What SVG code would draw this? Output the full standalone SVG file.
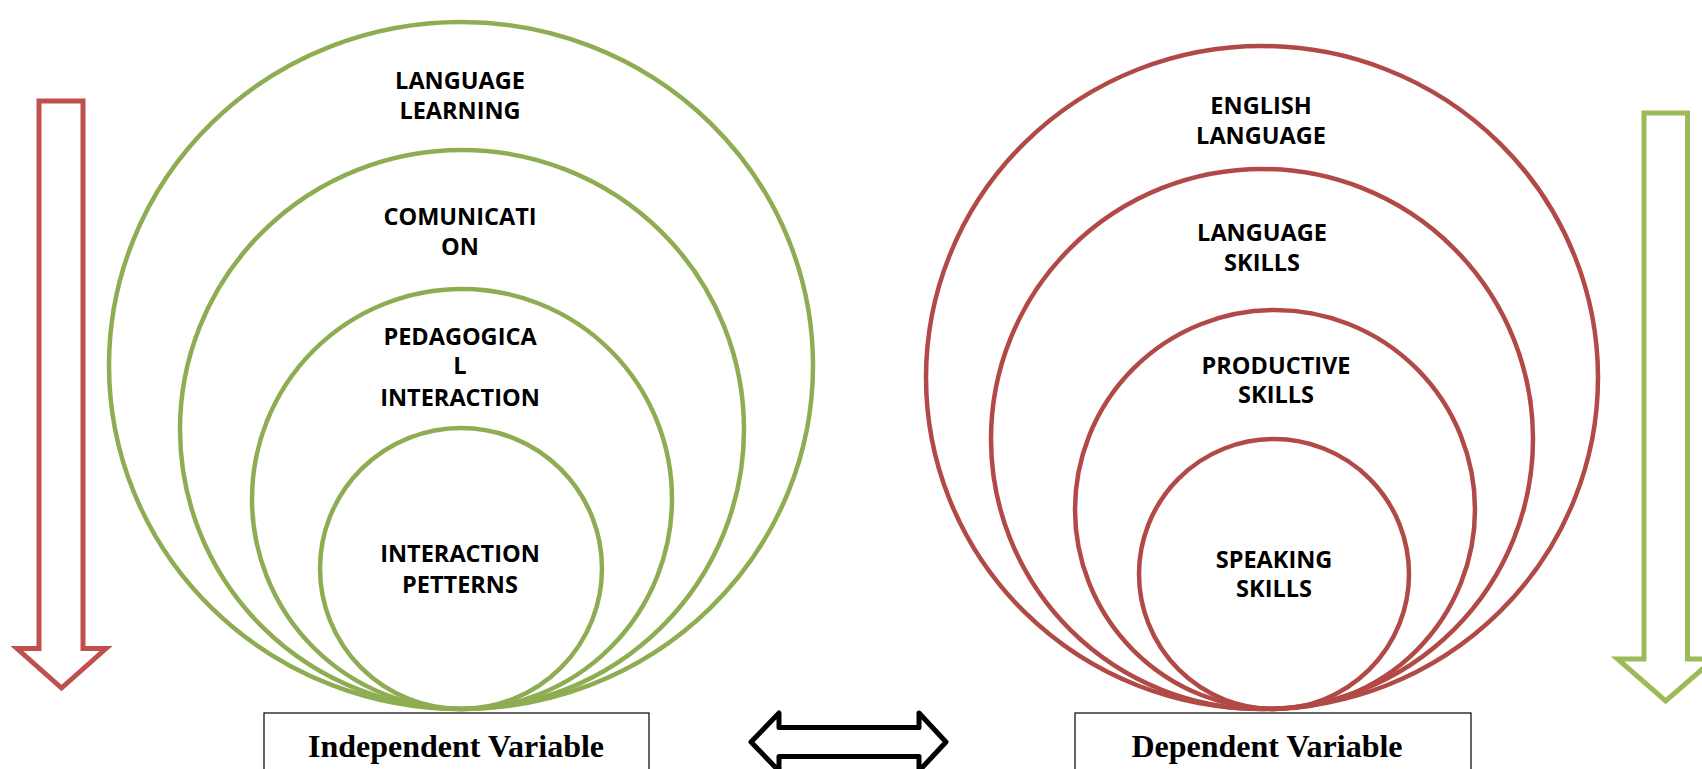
<svg xmlns="http://www.w3.org/2000/svg" width="1702" height="769" viewBox="0 0 1702 769">
  <style>
    .ring-g { fill: none; stroke: #8EAD52; stroke-width: 4.5; }
    .ring-r { fill: none; stroke: #B14A46; stroke-width: 4.5; }
    .lbl { font-family: "Open Sans", "Liberation Sans", sans-serif; font-weight: 700; font-size: 23.5px; fill: #000; text-anchor: middle; }
    .var { font-family: "Liberation Serif", "Times New Roman", serif; font-weight: 700; font-size: 32px; fill: #000; text-anchor: middle; }
    .box { fill: #fff; stroke: #000; stroke-width: 1.2; }
    .arrow-r { fill: #fff; stroke: #C0504D; stroke-width: 5; stroke-linejoin: miter; }
    .arrow-g { fill: #fff; stroke: #9BBB59; stroke-width: 5; stroke-linejoin: miter; }
    .arrow-k { fill: #fff; stroke: #000; stroke-width: 5; stroke-linejoin: round; }
  </style>
  <rect width="1702" height="769" fill="#fff"/>

  <!-- independent variable: nested green rings -->
  <g id="language-learning">
    <ellipse class="ring-g" cx="461" cy="365.5" rx="352" ry="343.5"/>
    <text class="lbl" x="460" y="89">LANGUAGE</text>
    <text class="lbl" x="460" y="119">LEARNING</text>
  </g>
  <g id="comunication">
    <ellipse class="ring-g" cx="462" cy="429.5" rx="282" ry="279.5"/>
    <text class="lbl" x="460" y="225">COMUNICATI</text>
    <text class="lbl" x="460" y="255">ON</text>
  </g>
  <g id="pedagogical-interaction">
    <ellipse class="ring-g" cx="462" cy="499" rx="210" ry="210"/>
    <text class="lbl" x="460" y="345">PEDAGOGICA</text>
    <text class="lbl" x="460" y="374">L</text>
    <text class="lbl" x="460" y="406">INTERACTION</text>
  </g>
  <g id="interaction-patterns">
    <ellipse class="ring-g" cx="461" cy="568.5" rx="141" ry="140.5"/>
    <text class="lbl" x="460" y="562">INTERACTION</text>
    <text class="lbl" x="460" y="593">PETTERNS</text>
  </g>

  <!-- dependent variable: nested red rings -->
  <g id="english-language">
    <ellipse class="ring-r" cx="1262" cy="377.5" rx="336" ry="331.5"/>
    <text class="lbl" x="1261" y="114">ENGLISH</text>
    <text class="lbl" x="1261" y="144">LANGUAGE</text>
  </g>
  <g id="language-skills">
    <ellipse class="ring-r" cx="1262" cy="439" rx="271" ry="270"/>
    <text class="lbl" x="1262" y="241">LANGUAGE</text>
    <text class="lbl" x="1262" y="271">SKILLS</text>
  </g>
  <g id="productive-skills">
    <ellipse class="ring-r" cx="1275" cy="509.5" rx="200" ry="199.5"/>
    <text class="lbl" x="1276" y="374">PRODUCTIVE</text>
    <text class="lbl" x="1276" y="403">SKILLS</text>
  </g>
  <g id="speaking-skills">
    <ellipse class="ring-r" cx="1274" cy="574" rx="135" ry="135"/>
    <text class="lbl" x="1274" y="568">SPEAKING</text>
    <text class="lbl" x="1274" y="597">SKILLS</text>
  </g>

  <!-- variable caption boxes -->
  <g id="independent-variable">
    <rect class="box" x="264" y="713" width="385" height="70"/>
    <text class="var" x="456" y="757">Independent Variable</text>
  </g>
  <g id="dependent-variable">
    <rect class="box" x="1075" y="713" width="396" height="70"/>
    <text class="var" x="1267" y="757">Dependent Variable</text>
  </g>

  <!-- block arrows -->
  <g id="connectors">
    <polygon class="arrow-r" points="39,101 83,101 83,648.5 106,648.5 61.5,688 17,648.5 39,648.5"/>
    <polygon class="arrow-g" points="1644,113 1687.5,113 1687.5,659 1714,659 1665.7,701 1617.5,659 1644,659"/>
    <polygon class="arrow-k" points="751,742 779,713 779,727.5 919,727.5 919,713 946,742 919,771 919,756.5 779,756.5 779,771"/>
  </g>
</svg>
